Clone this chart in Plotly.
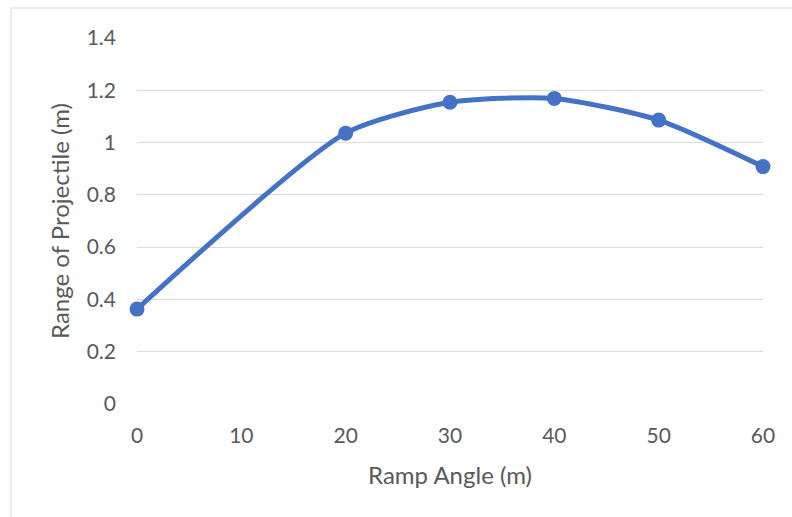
import plotly.graph_objects as go

angles = [0, 20, 30, 40, 50, 60]
ranges = [0.363, 1.036, 1.154, 1.169, 1.086, 0.908]
x_ticks = [0, 10, 20, 30, 40, 50, 60]
y_ticks = [0, 0.2, 0.4, 0.6, 0.8, 1, 1.2, 1.4]
y_tick_labels = ["0", "0.2", "0.4", "0.6", "0.8", "1", "1.2", "1.4"]

W, H = 792, 517
L, R, T, B = 137, 29, 38, 113
pw, ph = W - L - R, H - T - B

fig = go.Figure()
fig.add_trace(go.Scatter(
    x=angles, y=ranges, mode="lines+markers",
    line=dict(color="#4472C4", width=5, shape="spline", smoothing=0.65),
    marker=dict(color="#4472C4", size=15),
    cliponaxis=False, showlegend=False,
))

tc = "#595959"
fam = "Lato, 'Open Sans', sans-serif"

fig.update_layout(
    width=W, height=H,
    margin=dict(l=L, r=R, t=T, b=B),
    paper_bgcolor="white", plot_bgcolor="white",
    font=dict(family=fam, color=tc, size=21),
    xaxis=dict(range=[0, 60], tickvals=x_ticks, showgrid=False, zeroline=False,
               showline=False, ticks="", ticklabelstandoff=17,
               tickfont=dict(family=fam, size=21, color=tc),
               title=dict(text="Ramp Angle (m)", font=dict(family=fam, size=24, color=tc), standoff=21)),
    yaxis=dict(range=[0, 1.4], tickvals=y_ticks, ticktext=y_tick_labels,
               showgrid=True, gridcolor="#d9d9d9", gridwidth=1, zeroline=False,
               showline=False, ticks="", ticklabelstandoff=20,
               tickfont=dict(family=fam, size=21, color=tc),
               title=dict(text="Range of Projectile (m)", font=dict(family=fam, size=24, color=tc), standoff=10)),
)

# outer chart-area border (light gray)
fig.add_shape(type="rect", xref="paper", yref="paper",
              x0=(11 - L) / pw, x1=(W + 20 - L) / pw,
              y0=(H - B - (H + 20)) / ph, y1=(H - B - 8) / ph,
              line=dict(color="#d9d9d9", width=1), fillcolor="rgba(0,0,0,0)", layer="below")

fig.write_html("out.html")
